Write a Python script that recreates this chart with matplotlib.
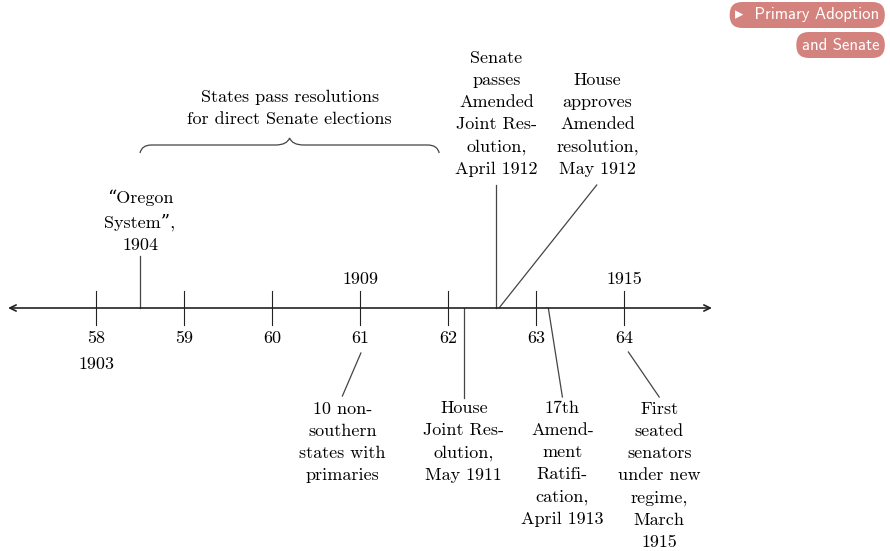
import matplotlib.pyplot as plt
from matplotlib.path import Path
from matplotlib.patches import PathPatch

# --- data -------------------------------------------------------------
congresses = [58, 59, 60, 61, 62, 63, 64]
year_marks = {58: '1903', 61: '1909', 64: '1915'}

# events placed along the congress axis
above_labels = ['\u201cOregon\nSystem\u201d,\n1904',
                'Senate\npasses\nAmended\nJoint Res-\nolution,\nApril 1912',
                'House\napproves\nAmended\nresolution,\nMay 1912']
above_pos = [58.5, 62.55, 62.58]

below_labels = ['10 non-\nsouthern\nstates with\nprimaries',
                'House\nJoint Res-\nolution,\nMay 1911',
                '17th\nAmend-\nment\nRatifi-\ncation,\nApril 1913',
                'First\nseated\nsenators\nunder new\nregime,\nMarch\n1915']
below_pos = [61, 62.18, 63.14, 64]

brace_label = 'States pass resolutions\nfor direct Senate elections'
brace_span = [58.5, 61.9]

nav_buttons = ['\u25b8  Primary Adoption', 'and Senate']

# --- layout (pixel rows, y grows downward) ----------------------------
AXIS_Y = 308
above_layout = [  # (text x, text centre y, line top x, line top y)
    (58.5, 221, 58.5, 256),
    (62.55, 114, 62.55, 185),
    (63.70, 125, 63.69, 185),
]
below_layout = [  # (line start x, line start y, line end x, line end y, text x, text y)
    (61.01, 353, 60.80, 396, 60.80, 442),
    (62.18, 308, 62.18, 398, 62.18, 442),
    (63.14, 308, 63.30, 397, 63.30, 464),
    (64.05, 352, 64.40, 397, 64.40, 476),
]

serif = ['cmr10', 'DejaVu Serif']
fs = 13
ls = 1.55

fig = plt.figure(figsize=(8.9, 5.51), dpi=100)
ax = fig.add_axes([0, 0, 1, 1])
x0 = 58 - 96 / 88
ax.set_xlim(x0, x0 + 890 / 88)
ax.set_ylim(551, 0)
ax.axis('off')

ink = '#222222'
thin = '#444444'

# main axis
ax.annotate('', xy=(65.0, AXIS_Y), xytext=(57.0, AXIS_Y),
            arrowprops=dict(arrowstyle='<->,head_length=0.45,head_width=0.22',
                            lw=1.2, color=ink, shrinkA=0, shrinkB=0))

for c in congresses:
    ax.plot([c, c], [AXIS_Y - 17, AXIS_Y + 17], color=ink, lw=0.8)
    ax.text(c, 338, str(c), ha='center', va='center', fontsize=fs, family=serif)
for c, yr in year_marks.items():
    y = 364 if c == 58 else 279
    ax.text(c, y, yr, ha='center', va='center', fontsize=fs, family=serif)

# events above the axis
for lab, pos, (tx, ty, lx, ly) in zip(above_labels, above_pos, above_layout):
    ax.plot([pos, lx], [AXIS_Y, ly], color=thin, lw=0.9)
    ax.text(tx, ty, lab, ha='center', va='center', fontsize=fs, family=serif,
            linespacing=ls)

# events below the axis
for lab, pos, (sx, sy, ex, ey, tx, ty) in zip(below_labels, below_pos, below_layout):
    ax.plot([sx, ex], [sy, ey], color=thin, lw=0.9)
    ax.text(tx, ty, lab, ha='center', va='center', fontsize=fs, family=serif,
            linespacing=ls)

# brace
a, b = brace_span
m = (a + b) / 2
yb, yl, yt = 153, 145, 138
verts = [(a, yb), (a + 0.02, yl), (a + 0.13, yl),
         (m - 0.16, yl),
         (m - 0.03, yl), (m, yt),
         (m + 0.03, yl), (m + 0.16, yl),
         (b - 0.13, yl),
         (b - 0.02, yl), (b, yb)]
codes = [Path.MOVETO, Path.CURVE3, Path.CURVE3,
         Path.LINETO,
         Path.CURVE3, Path.CURVE3,
         Path.CURVE3, Path.CURVE3,
         Path.LINETO,
         Path.CURVE3, Path.CURVE3]
ax.add_patch(PathPatch(Path(verts, codes), fill=False, color=thin, lw=0.9))
ax.text(m, 108, brace_label, ha='center', va='center', fontsize=fs, family=serif,
        linespacing=ls)

# navigation buttons top right
btn_col = '#d4827d'
for i, lab in enumerate(nav_buttons):
    fig.text(0.988, 1 - (15 + 30 * i) / 551, lab, ha='right', va='center',
             fontsize=12, color='white', family=['cmss10', 'DejaVu Sans'],
             bbox=dict(boxstyle='round,pad=0.33,rounding_size=0.75',
                       fc=btn_col, ec='none'))

fig.savefig('out.png', dpi=100)
